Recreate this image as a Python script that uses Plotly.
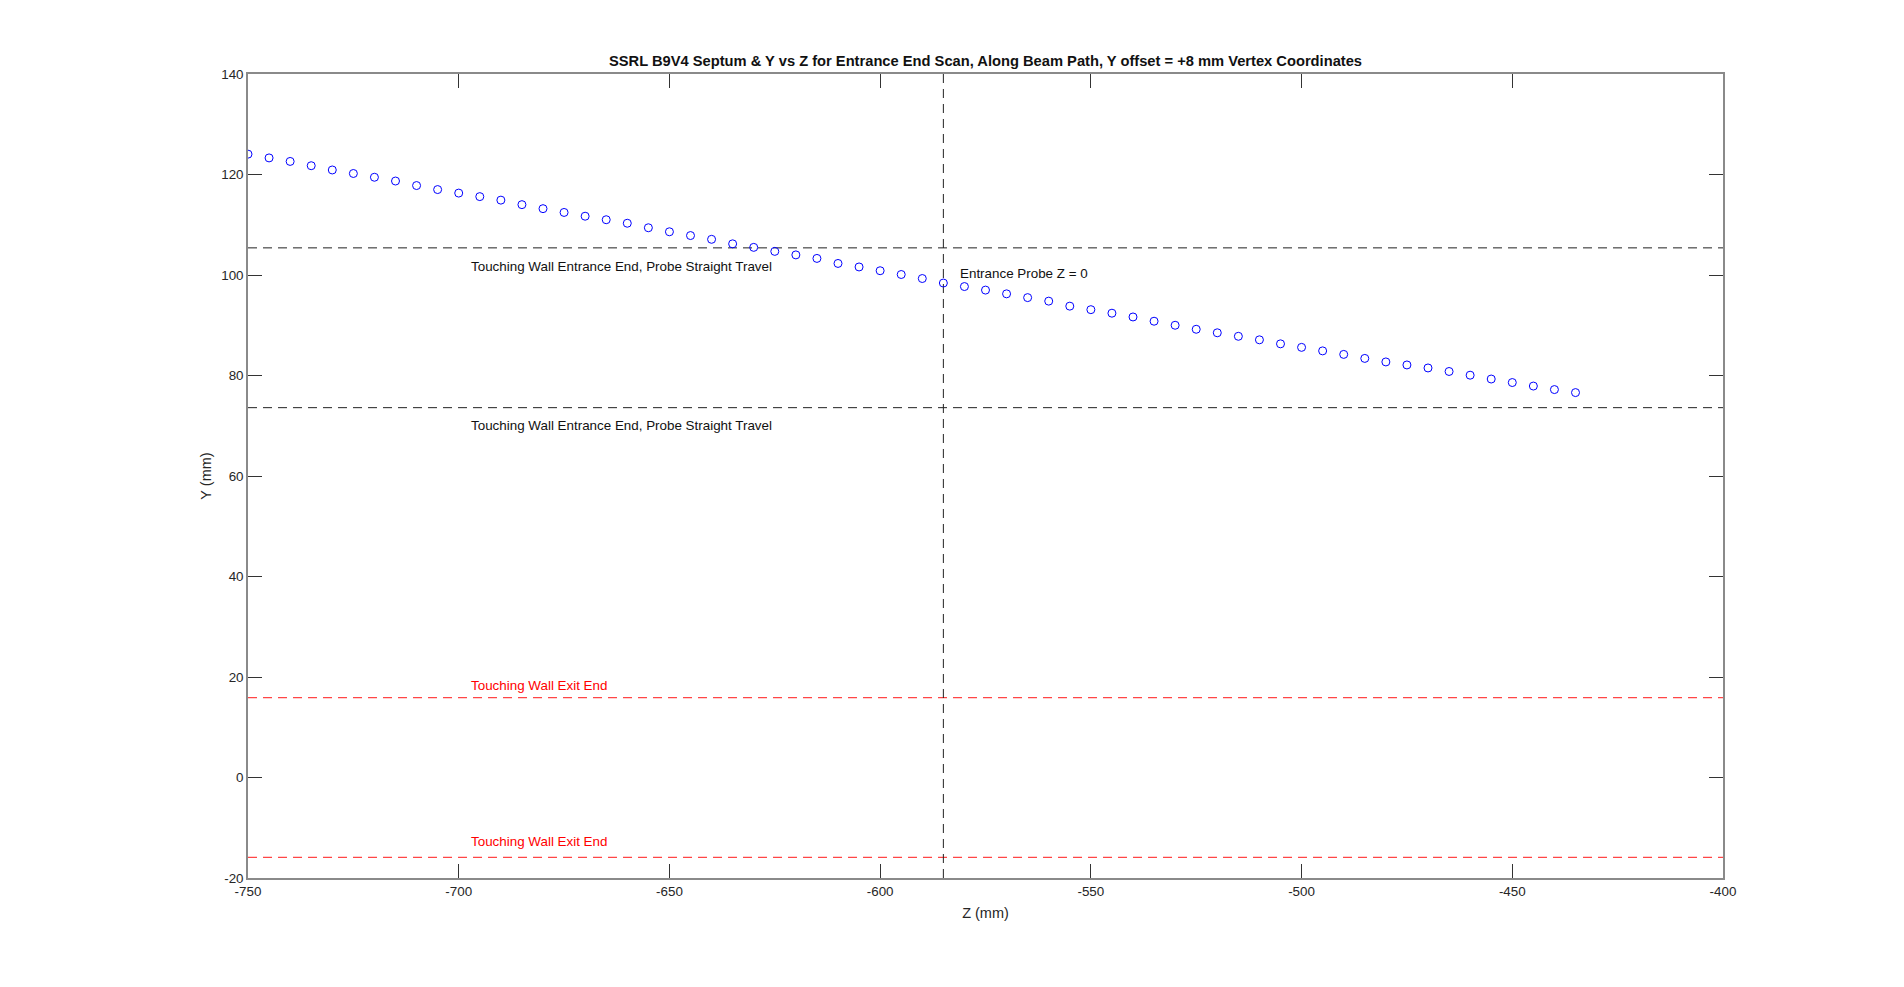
import plotly.graph_objects as go

# ---- data ----
z_mm = [-750 + 5 * i for i in range(64)]  # -750 ... -435 step 5 (scan positions)
y_mm = [124.05, 123.3, 122.6, 121.75, 120.9, 120.2, 119.45, 118.7, 117.8, 117.0,
        116.3, 115.6, 114.9, 114.0, 113.2, 112.45, 111.7, 111.0, 110.3, 109.4,
        108.6, 107.85, 107.1, 106.2, 105.5, 104.7, 104.0, 103.3, 102.3, 101.6,
        100.85, 100.1, 99.3, 98.4, 97.7, 97.0, 96.25, 95.5, 94.8, 93.8,
        93.1, 92.4, 91.65, 90.8, 90.0, 89.2, 88.5, 87.8, 87.1, 86.3,
        85.6, 84.9, 84.2, 83.4, 82.7, 82.1, 81.5, 80.8, 80.06, 79.3,
        78.6, 77.9, 77.2, 76.6]

entrance_wall_y = [105.4, 73.6]
exit_wall_y = [15.9, -15.9]
probe_z0 = -585
x_range = [-750, -400]
y_range = [-20, 140]
x_ticks = [-750, -700, -650, -600, -550, -500, -450, -400]
y_ticks = [-20, 0, 20, 40, 60, 80, 100, 120, 140]
x_ticktext = [str(v) for v in x_ticks]
y_ticktext = [str(v) for v in y_ticks]

entrance_label = "Touching Wall Entrance End, Probe Straight Travel"
exit_label = "Touching Wall Exit End"
probe_label = "Entrance Probe Z = 0"
entrance_label_pos = [(-697.5, 101.6), (-697.5, 70.0)]
exit_label_pos = [(-697.5, 18.3), (-697.5, -12.8)]
probe_label_pos = (-581.5, 100.3)

FONT = "Liberation Sans, Arial, sans-serif"

fig = go.Figure()

for yv in entrance_wall_y:
    fig.add_trace(go.Scatter(x=x_range, y=[yv, yv], mode="lines",
                             line=dict(color="#222222", width=1, dash="9px,6px"),
                             hoverinfo="skip", showlegend=False))
for yv in exit_wall_y:
    fig.add_trace(go.Scatter(x=x_range, y=[yv, yv], mode="lines",
                             line=dict(color="rgb(255,70,70)", width=1.2, dash="9px,6px"),
                             hoverinfo="skip", showlegend=False))
fig.add_trace(go.Scatter(x=[probe_z0, probe_z0], y=y_range, mode="lines",
                         line=dict(color="#222222", width=1, dash="9px,6px"),
                         hoverinfo="skip", showlegend=False))

fig.add_trace(go.Scatter(x=z_mm, y=y_mm, mode="markers",
                         marker=dict(symbol="circle-open", size=8, color="blue",
                                     line=dict(width=1, color="blue")),
                         showlegend=False))

annotations = []
for (ax, ay) in entrance_label_pos:
    annotations.append(dict(x=ax, y=ay, text=entrance_label, showarrow=False,
                            xanchor="left", yanchor="middle",
                            font=dict(family=FONT, size=13.4, color="#111111")))
for (ax, ay) in exit_label_pos:
    annotations.append(dict(x=ax, y=ay, text=exit_label, showarrow=False,
                            xanchor="left", yanchor="middle",
                            font=dict(family=FONT, size=13.4, color="red")))
annotations.append(dict(x=probe_label_pos[0], y=probe_label_pos[1], text=probe_label,
                        showarrow=False, xanchor="left", yanchor="middle",
                        font=dict(family=FONT, size=13.4, color="#111111")))

axis_common = dict(showgrid=False, zeroline=False, showline=True, mirror="ticks",
                   linecolor="#8a8a8a", linewidth=1.5, ticks="inside", ticklen=14,
                   tickcolor="#333333", tickwidth=1,
                   tickfont=dict(family=FONT, size=13.4, color="#262626"))

fig.update_layout(
    width=1904, height=987,
    margin=dict(l=240, r=189, t=66, b=117, autoexpand=False),
    paper_bgcolor="white", plot_bgcolor="white",
    title=dict(text="<b>SSRL B9V4 Septum & Y vs Z for Entrance End Scan, Along Beam Path, Y offset = +8 mm Vertex Coordinates</b>",
               xref="paper", x=0.5, xanchor="center", y=1 - 53 / 987, yanchor="middle",
               font=dict(family=FONT, size=14.7, color="#111111")),
    xaxis=dict(range=x_range, tickvals=x_ticks, ticktext=x_ticktext,
               title=dict(text="Z (mm)", standoff=10,
                          font=dict(family=FONT, size=14.5, color="#262626")), **axis_common),
    yaxis=dict(range=y_range, tickvals=y_ticks, ticktext=y_ticktext,
               title=dict(text="Y (mm)", standoff=6,
                          font=dict(family=FONT, size=14.5, color="#262626")), **axis_common),
    annotations=annotations,
    showlegend=False,
)

fig.write_html("out.html")
